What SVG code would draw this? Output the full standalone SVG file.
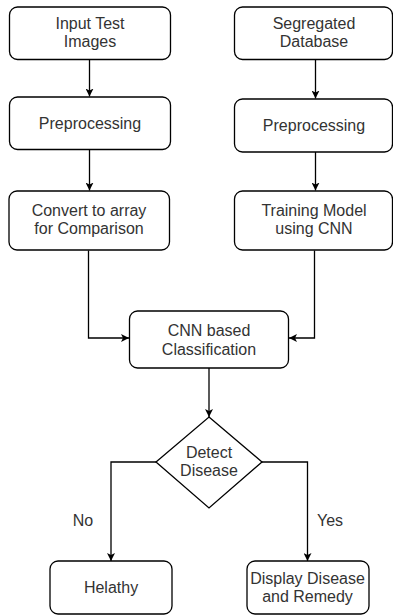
<svg xmlns="http://www.w3.org/2000/svg" width="393" height="616" viewBox="0 0 393 616">
<defs>
<marker id="arr" viewBox="0 0 10 10" refX="10" refY="5" markerWidth="8" markerHeight="8" markerUnits="userSpaceOnUse" orient="auto">
<path d="M0,0 L10,5 L0,10 L2.5,5 Z" fill="#000"/>
</marker>
<style>
.box{fill:#fff;stroke:#000;stroke-width:1.3}
.t{font-family:"Liberation Sans",Arial,sans-serif;font-size:16px;fill:#333;text-anchor:middle}
.c{fill:none;stroke:#000;stroke-width:1.3;marker-end:url(#arr)}
</style>
</defs>
<rect width="393" height="616" fill="#fff"/>
<g id="connectors">
<path class="c" d="M89.5,59.5 V96.5"/>
<path class="c" d="M89.5,149.5 V190.5"/>
<path class="c" d="M315.5,59.5 V98.5"/>
<path class="c" d="M315.5,152 V190.5"/>
<path class="c" d="M88.5,250.5 V338 H129"/>
<path class="c" d="M314.5,250.5 V338 H289"/>
<path class="c" d="M209,368 V417"/>
<path class="c" d="M156,462 H111 V561"/>
<path class="c" d="M262,462 H307.5 V561"/>
</g>
<g id="n1"><rect class="box" x="9.5" y="7" width="161" height="52.5" rx="8"/><text class="t" x="90" y="28.5">Input Test</text><text class="t" x="90" y="47">Images</text></g>
<g id="n2"><rect class="box" x="9.5" y="97" width="161" height="52.5" rx="8"/><text class="t" x="90" y="128.5">Preprocessing</text></g>
<g id="n3"><rect class="box" x="9" y="191" width="160.5" height="59" rx="8"/><text class="t" x="89" y="215.5">Convert to array</text><text class="t" x="89" y="234">for Comparison</text></g>
<g id="n4"><rect class="box" x="234.5" y="7" width="158" height="52.5" rx="8"/><text class="t" x="314" y="28.5">Segregated</text><text class="t" x="314" y="47">Database</text></g>
<g id="n5"><rect class="box" x="234.5" y="99" width="158" height="53" rx="8"/><text class="t" x="314" y="131">Preprocessing</text></g>
<g id="n6"><rect class="box" x="234.5" y="191" width="158" height="59" rx="8"/><text class="t" x="314" y="215.5">Training Model</text><text class="t" x="314" y="234">using CNN</text></g>
<g id="n7"><rect class="box" x="129.5" y="311" width="159" height="57" rx="8"/><text class="t" x="209" y="336">CNN based</text><text class="t" x="209" y="354.5">Classification</text></g>
<g id="n8"><polygon class="box" points="209,417 262,462 209,508 156,462"/><text class="t" x="209" y="457.5">Detect</text><text class="t" x="209" y="476">Disease</text></g>
<g id="n9"><rect class="box" x="50" y="561" width="122" height="53" rx="8"/><text class="t" x="111" y="593">Helathy</text></g>
<g id="n10"><rect class="box" x="247" y="561" width="122" height="53" rx="8"/><text class="t" x="307.5" y="583.5">Display Disease</text><text class="t" x="307.5" y="602">and Remedy</text></g>
<text class="t" x="83" y="526">No</text>
<text class="t" x="330" y="526">Yes</text>
</svg>
